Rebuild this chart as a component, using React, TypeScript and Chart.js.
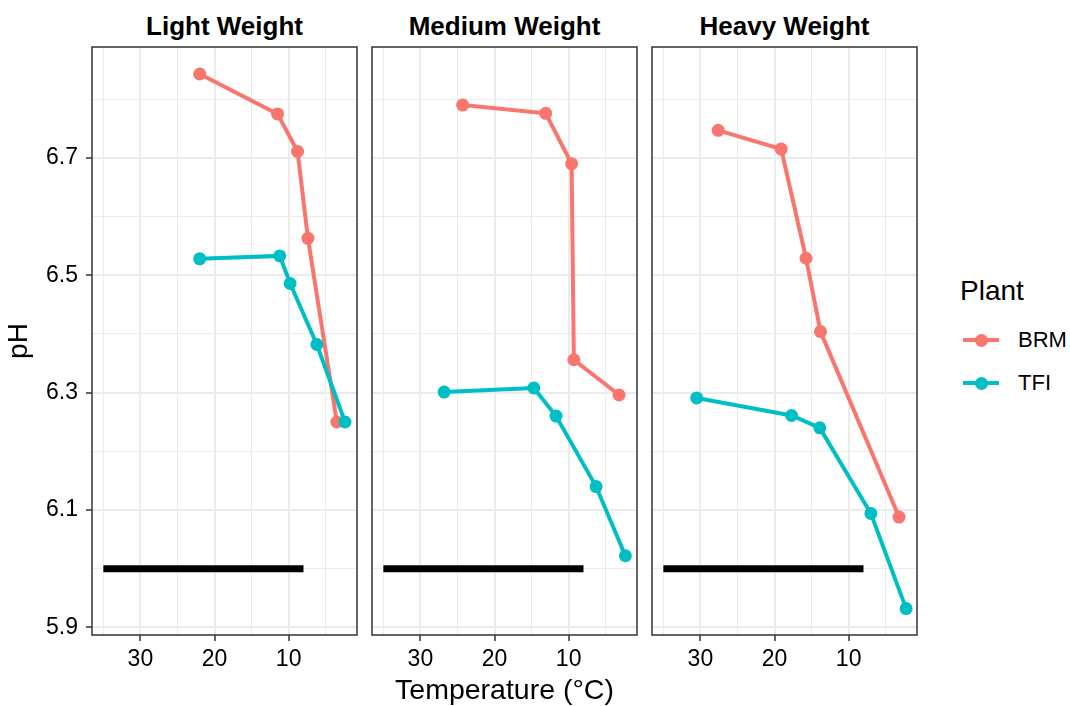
import React, { useEffect, useRef } from 'react';
import { Chart, registerables } from 'chart.js';
Chart.register(...registerables);

// ---------- data ----------
const panelTitles = ['Light Weight', 'Medium Weight', 'Heavy Weight'];
const seriesNames = ['BRM', 'TFI'];
const seriesColors = ['#F8766D', '#00BFC4'];

const lightBrmTemp = [22.0, 11.5, 8.8, 7.4, 3.5];
const lightBrmPH = [6.843, 6.775, 6.711, 6.563, 6.25];
const lightTfiTemp = [22.0, 11.2, 9.8, 6.2, 2.4];
const lightTfiPH = [6.528, 6.533, 6.486, 6.382, 6.25];

const mediumBrmTemp = [24.3, 13.1, 9.6, 9.3, 3.2];
const mediumBrmPH = [6.79, 6.776, 6.69, 6.356, 6.296];
const mediumTfiTemp = [26.8, 14.7, 11.7, 6.3, 2.35];
const mediumTfiPH = [6.301, 6.308, 6.26, 6.14, 6.022];

const heavyBrmTemp = [27.6, 19.1, 15.75, 13.8, 3.2];
const heavyBrmPH = [6.747, 6.715, 6.529, 6.404, 6.088];
const heavyTfiTemp = [30.5, 17.7, 13.9, 7.0, 2.25];
const heavyTfiPH = [6.291, 6.261, 6.24, 6.094, 5.932];

const refTemp = [35, 8];
const refPH = [6.0, 6.0];

const xTickValues = [35, 30, 25, 20, 15, 10, 5];
const xTickLabels = ['', '30', '', '20', '', '10', ''];
const yTickValues = [5.9, 6.0, 6.1, 6.2, 6.3, 6.4, 6.5, 6.6, 6.7, 6.8];
const yTickLabels = ['5.9', '', '6.1', '', '6.3', '', '6.5', '', '6.7', ''];

const X_MIN = 0.78;
const X_MAX = 36.53;
const Y_MIN = 5.887;
const Y_MAX = 6.889;

const panelData = [
  { brmT: lightBrmTemp, brmP: lightBrmPH, tfiT: lightTfiTemp, tfiP: lightTfiPH },
  { brmT: mediumBrmTemp, brmP: mediumBrmPH, tfiT: mediumTfiTemp, tfiP: mediumTfiPH },
  { brmT: heavyBrmTemp, brmP: heavyBrmPH, tfiT: heavyTfiTemp, tfiP: heavyTfiPH },
];

// ---------- layout ----------
const FONT = "'Liberation Sans', Arial, Helvetica, sans-serif";
const PANEL_LEFTS = [92, 372, 652];
const PANEL_W = 265;
const PANEL_TOP = 47;
const PANEL_BOTTOM = 635;
const H = 706;

const zip = (xs: number[], ys: number[]) => xs.map((x, i) => ({ x, y: ys[i] }));

const framePlugin = {
  id: 'frame',
  afterDraw(chart: any) {
    const { ctx, chartArea: a } = chart;
    ctx.save();
    ctx.strokeStyle = '#333333';
    ctx.lineWidth = 1.5;
    ctx.strokeRect(a.left, a.top, a.right - a.left, a.bottom - a.top);
    ctx.restore();
  },
};

function Panel({ idx }: { idx: number }) {
  const ref = useRef<HTMLCanvasElement>(null);
  const first = idx === 0;
  const yW = first ? 92 : 10;
  const rightPad = 13;
  const w = yW + PANEL_W + rightPad;
  const left = PANEL_LEFTS[idx] - yW;

  useEffect(() => {
    const d = panelData[idx];
    const isMajorY = (v: number) => Math.round(v * 10) % 2 === 1;
    const isMajorX = (v: number) => Math.round(v) % 10 === 0;
    const series = (name: string, color: string, xs: number[], ys: number[], order: number) => ({
      label: name,
      data: zip(xs, ys),
      borderColor: color,
      backgroundColor: color,
      pointBackgroundColor: color,
      pointBorderColor: color,
      borderWidth: 4,
      pointRadius: 6.5,
      pointHoverRadius: 6.5,
      pointBorderWidth: 0,
      tension: 0,
      order,
    });
    const chart = new Chart(ref.current as HTMLCanvasElement, {
      type: 'line',
      data: {
        datasets: [
          series(seriesNames[1], seriesColors[1], d.tfiT, d.tfiP, 0),
          series(seriesNames[0], seriesColors[0], d.brmT, d.brmP, 1),
          {
            label: 'ref',
            data: zip(refTemp, refPH),
            borderColor: '#000000',
            backgroundColor: '#000000',
            borderWidth: 7,
            borderCapStyle: 'butt',
            pointRadius: 0,
            pointHoverRadius: 0,
            tension: 0,
            order: 2,
          },
        ],
      },
      options: {
        animation: false,
        responsive: false,
        events: [],
        layout: { padding: { top: PANEL_TOP, right: rightPad, bottom: 0, left: 0 } },
        plugins: {
          legend: { display: false },
          tooltip: { enabled: false },
          title: { display: false },
        },
        scales: {
          x: {
            type: 'linear',
            reverse: true,
            min: X_MIN,
            max: X_MAX,
            afterBuildTicks: (s: any) => {
              s.ticks = xTickValues.map((v) => ({ value: v }));
            },
            afterFit: (s: any) => {
              s.height = H - PANEL_BOTTOM;
            },
            ticks: {
              autoSkip: false,
              maxRotation: 0,
              minRotation: 0,
              padding: 5,
              color: '#000000',
              font: { family: FONT, size: 23 },
              callback: (v: any) => {
                const i = xTickValues.indexOf(Number(v));
                return i >= 0 ? xTickLabels[i] : '';
              },
            },
            grid: {
              color: '#EBEBEB',
              lineWidth: (c: any) => (c.tick && isMajorX(c.tick.value) ? 2 : 1),
              drawTicks: true,
              tickLength: 6,
              tickColor: (c: any) => (c.tick && isMajorX(c.tick.value) ? '#333333' : 'rgba(0,0,0,0)'),
              tickWidth: 1.5,
            },
            border: { display: false },
          },
          y: {
            type: 'linear',
            min: Y_MIN,
            max: Y_MAX,
            afterBuildTicks: (s: any) => {
              s.ticks = yTickValues.map((v) => ({ value: v }));
            },
            afterFit: (s: any) => {
              s.width = yW;
            },
            ticks: {
              display: first,
              padding: 8,
              color: '#000000',
              font: { family: FONT, size: 23 },
              callback: (v: any) => {
                const i = yTickValues.findIndex((t) => Math.abs(t - Number(v)) < 1e-6);
                return i >= 0 ? yTickLabels[i] : '';
              },
            },
            grid: {
              color: '#EBEBEB',
              lineWidth: (c: any) => (c.tick && isMajorY(c.tick.value) ? 2 : 1),
              drawTicks: first,
              tickLength: 6,
              tickColor: (c: any) => (c.tick && isMajorY(c.tick.value) ? '#333333' : 'rgba(0,0,0,0)'),
              tickWidth: 1.5,
            },
            border: { display: false },
          },
        },
      } as any,
      plugins: [framePlugin],
    });
    return () => chart.destroy();
  }, [idx]);

  return (
    <canvas
      ref={ref}
      width={w}
      height={H}
      style={{ position: 'absolute', left, top: 0, width: w, height: H }}
    />
  );
}

export default function App() {
  return (
    <div
      style={{
        position: 'absolute',
        left: 0,
        top: 0,
        width: 1070,
        height: H,
        background: '#ffffff',
        fontFamily: FONT,
        color: '#000',
        overflow: 'hidden',
      }}
    >
      {panelTitles.map((t, i) => (
        <div
          key={t}
          style={{
            position: 'absolute',
            left: PANEL_LEFTS[i],
            width: PANEL_W,
            top: 13,
            textAlign: 'center',
            fontWeight: 'bold',
            fontSize: 26,
            lineHeight: '26px',
            whiteSpace: 'nowrap',
          }}
        >
          {t}
        </div>
      ))}
      {[0, 1, 2].map((i) => (
        <Panel key={i} idx={i} />
      ))}
      <div
        style={{
          position: 'absolute',
          left: PANEL_LEFTS[0],
          width: PANEL_LEFTS[2] + PANEL_W - PANEL_LEFTS[0],
          top: 675,
          textAlign: 'center',
          fontSize: 28.5,
          lineHeight: '29px',
          whiteSpace: 'nowrap',
        }}
      >
        Temperature (°C)
      </div>
      <div
        style={{
          position: 'absolute',
          left: 18 - 50,
          top: 341 - 14,
          width: 100,
          textAlign: 'center',
          fontSize: 28,
          lineHeight: '28px',
          transform: 'rotate(-90deg)',
          transformOrigin: '50% 50%',
        }}
      >
        pH
      </div>
      {/* legend */}
      <div
        style={{
          position: 'absolute',
          left: 960,
          top: 277,
          fontSize: 28,
          lineHeight: '28px',
          whiteSpace: 'nowrap',
        }}
      >
        Plant
      </div>
      {seriesNames.map((n, i) => {
        const cy = i === 0 ? 340 : 383;
        return (
          <React.Fragment key={n}>
            <div
              style={{
                position: 'absolute',
                left: 963,
                top: cy - 2,
                width: 36,
                height: 4,
                background: seriesColors[i],
              }}
            />
            <div
              style={{
                position: 'absolute',
                left: 981 - 6.5,
                top: cy - 6.5,
                width: 13,
                height: 13,
                borderRadius: '50%',
                background: seriesColors[i],
              }}
            />
            <div
              style={{
                position: 'absolute',
                left: 1018,
                top: cy - 12,
                fontSize: 22,
                lineHeight: '24px',
                whiteSpace: 'nowrap',
              }}
            >
              {n}
            </div>
          </React.Fragment>
        );
      })}
    </div>
  );
}
